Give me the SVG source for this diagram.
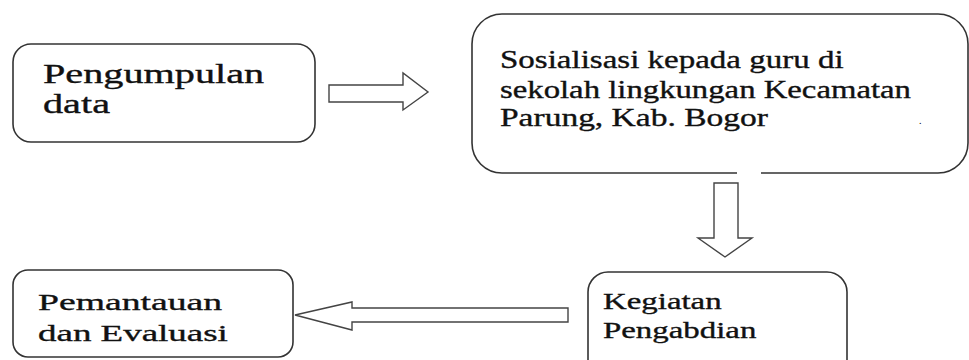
<svg xmlns="http://www.w3.org/2000/svg" width="969" height="360" viewBox="0 0 969 360">
<style>
.box{fill:#fff;stroke:#333;stroke-width:1.6}
.arr{fill:#fff;stroke:#444;stroke-width:1.4;stroke-linejoin:miter}
.tx{fill:#111;stroke:#111;stroke-width:0.35}
</style>
<rect width="969" height="360" fill="#fff"/>
<g id="node-pengumpulan">
<rect class="box" x="13" y="44" width="302" height="98" rx="18"/>
<text class="tx" font-family="Liberation Serif" font-size="27" transform="translate(43,83) scale(1.49,1)">Pengumpulan</text>
<text class="tx" font-family="Liberation Serif" font-size="27" transform="translate(43,113) scale(1.49,1)">data</text>
</g>
<g id="node-sosialisasi">
<path class="box" d="M737,173 H502 A30,30 0 0 1 472,143 V44 A30,30 0 0 1 502,14 H938 A30,30 0 0 1 968,44 V143 A30,30 0 0 1 938,173 H761"/>
<text class="tx" font-family="Liberation Serif" font-size="25" transform="translate(500,68) scale(1.32,1)">Sosialisasi kepada guru di</text>
<text class="tx" font-family="Liberation Serif" font-size="25" transform="translate(500,98) scale(1.31,1)">sekolah lingkungan Kecamatan</text>
<text class="tx" font-family="Liberation Serif" font-size="25" transform="translate(500,126) scale(1.34,1)">Parung, Kab. Bogor</text>
<text font-family="Liberation Serif" x="919" y="124" font-size="10">.</text>
</g>
<g id="node-kegiatan">
<rect class="box" x="588" y="272" width="259" height="110" rx="20"/>
<text class="tx" font-family="Liberation Serif" font-size="23" transform="translate(603,309) scale(1.43,1)">Kegiatan</text>
<text class="tx" font-family="Liberation Serif" font-size="23" transform="translate(603,338) scale(1.43,1)">Pengabdian</text>
</g>
<g id="node-pemantauan">
<rect class="box" x="13" y="270" width="280" height="87" rx="15"/>
<text class="tx" font-family="Liberation Serif" font-size="24" transform="translate(38,310) scale(1.57,1)">Pemantauan</text>
<text class="tx" font-family="Liberation Serif" font-size="24" transform="translate(38,341) scale(1.54,1)">dan Evaluasi</text>
</g>
<g id="connectors">
<polygon class="arr" points="329,85 403,85 403,73 428,92 403,110 403,102 329,102"/>
<polygon class="arr" points="714,183 738,183 738,238 752,238 725,257 698,238 714,238"/>
<polygon class="arr" points="568,308 352,308 352,302 295,315 352,330 352,322 568,322"/>
</g>
</svg>
